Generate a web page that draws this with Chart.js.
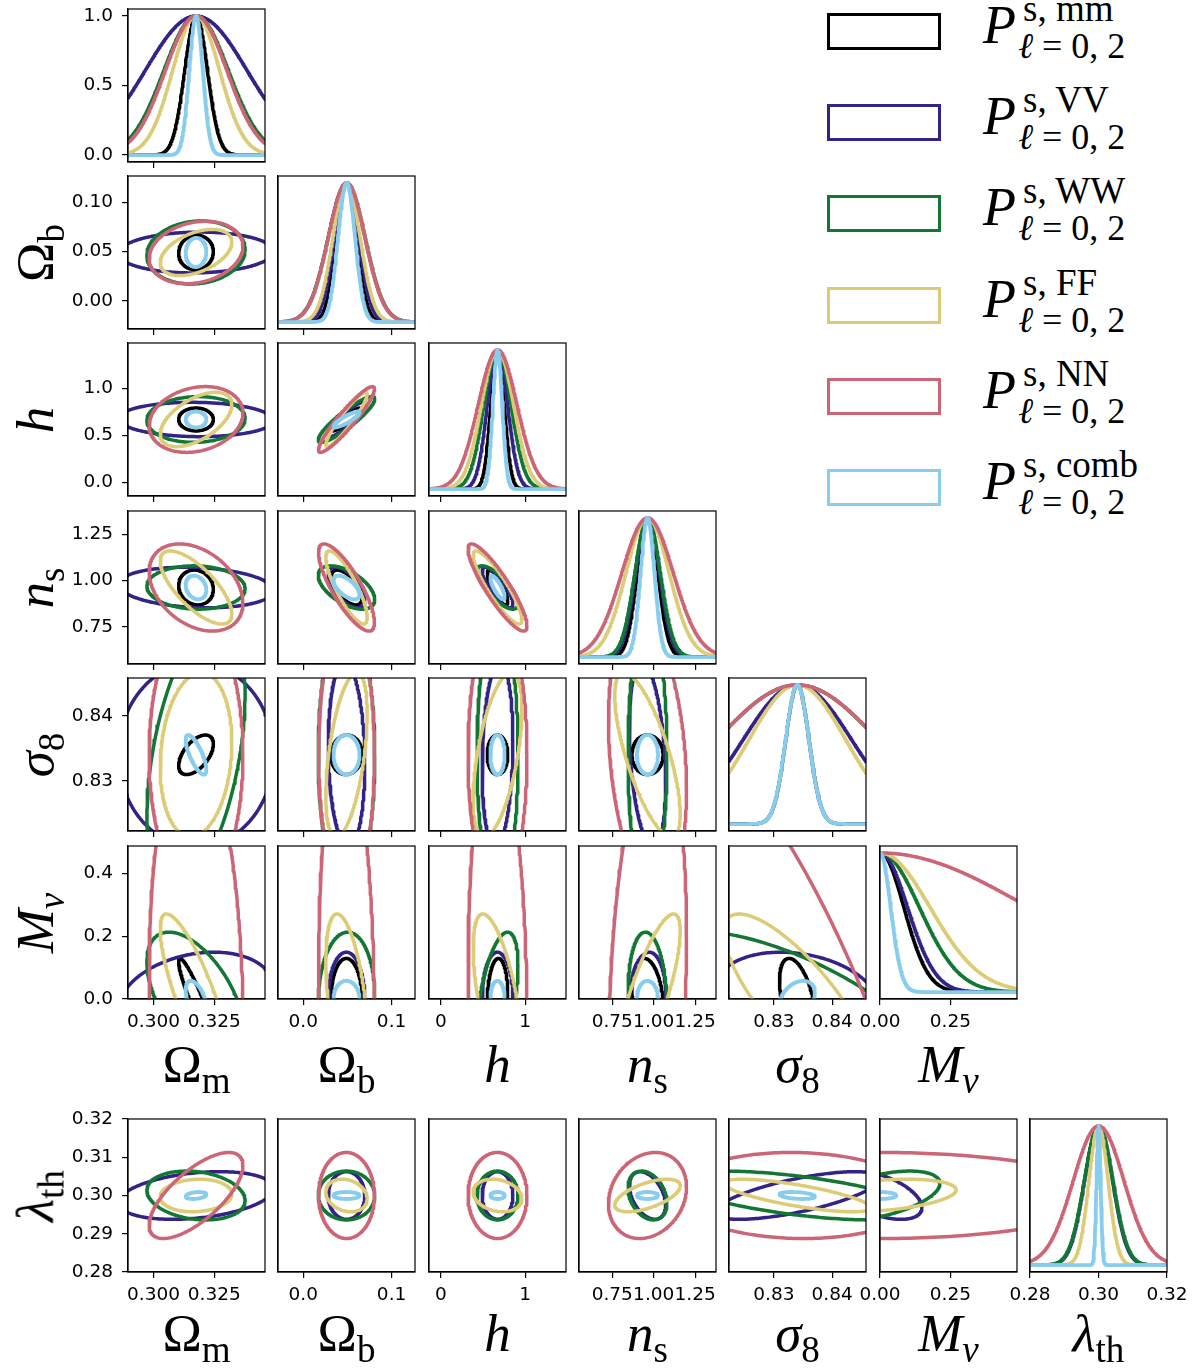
<!DOCTYPE html>
<html>
<head>
<meta charset="utf-8">
<title>Fisher forecast corner plot</title>
<script src="https://cdn.jsdelivr.net/npm/chart.js@4.4.1/dist/chart.umd.min.js"></script>
<style>
  body { margin: 0; background: #fff; }
  #fig { position: relative; width: 1199px; height: 1370px; overflow: hidden; }
  #fig canvas { position: absolute; }
  .lab { position: absolute; font-family: "Liberation Serif", "DejaVu Serif", serif; font-size: 53px; line-height: 1; white-space: nowrap; color: #000; }
  .lab .sb { font-size: 0.7em; position: relative; top: 0.3em; }
  .xlab { transform: translateX(-50%); }
  .ylab { transform: translate(-50%, -50%) rotate(-90deg); }
  .sw { position: absolute; box-sizing: border-box; width: 114px; height: 37px; border: 3.5px solid; }
  .lg { position: absolute; font-family: "Liberation Serif", "DejaVu Serif", serif; line-height: 1; white-space: nowrap; color: #000; }
</style>
</head>
<body>
<div id="fig"></div>
<script>
// parameters: Omega_m, Omega_b, h, n_s, sigma_8, M_nu, lambda_th
const paramBase = ["Ω", "Ω", "h", "n", "σ", "M", "λ"];
const paramSub = ["m", "b", "", "s", "8", "ν", "th"];
const fiducial = [0.3175, 0.049, 0.6711, 0.9624, 0.834, 0.0, 0.30];
const axisMin = [0.2895, -0.0285, -0.142, 0.549, 0.8223, 0.0, 0.28];
const axisMax = [0.3459, 0.1265, 1.484, 1.376, 0.8458, 0.487, 0.32];

const xTickValues = [[0.300, 0.325], [0.0, 0.1], [0, 1], [0.75, 1.0, 1.25], [0.83, 0.84], [0.0, 0.25], [0.28, 0.30, 0.32]];
const xTickLabels = [["0.300", "0.325"], ["0.0", "0.1"], ["0", "1"], ["0.75", "1.00", "1.25"], ["0.83", "0.84"], ["0.00", "0.25"], ["0.28", "0.30", "0.32"]];
const yTickValues = [[0.0, 0.5, 1.0], [0.0, 0.05, 0.10], [0.0, 0.5, 1.0], [0.75, 1.0, 1.25], [0.83, 0.84], [0.0, 0.2, 0.4], [0.28, 0.29, 0.30, 0.31, 0.32]];
const yTickLabels = [["0.0", "0.5", "1.0"], ["0.00", "0.05", "0.10"], ["0.0", "0.5", "1.0"], ["0.75", "1.00", "1.25"], ["0.83", "0.84"], ["0.0", "0.2", "0.4"], ["0.28", "0.29", "0.30", "0.31", "0.32"]];

// probes, in drawing order (comb ends on top)
const probeNames = ["mm", "VV", "WW", "FF", "NN", "comb"];
const probeColors = ["#000000", "#332288", "#117733", "#DDCC77", "#CC6677", "#88CCEE"];

// marginalised 1-sigma errors, one per parameter (null = not constrained)
const sigmaMM = [0.0047, 0.0115, 0.080, 0.062, 0.0020, 0.085, null];
const sigmaVV = [0.021, 0.0136, 0.12, 0.072, 0.0093, 0.098, 0.0041];
const sigmaWW = [0.0133, 0.021, 0.16, 0.077, 0.0138, 0.14, 0.0042];
const sigmaFF = [0.0097, 0.0154, 0.19, 0.13, 0.0083, 0.178, 0.0028];
const sigmaNN = [0.0127, 0.0208, 0.23, 0.155, 0.0138, 0.53, 0.0074];
const sigmaComb = [0.0028, 0.0097, 0.056, 0.042, 0.0020, 0.038, 0.0006];

// correlation coefficients, pairs (0,1),(0,2),...,(0,6),(1,2),...,(5,6)
const rhoMM = [0.05, 0.0, -0.1, 0.55, -0.92, null, 0.9, -0.6, 0.05, 0.0, null, -0.8, 0.0, 0.1, null, 0.0, -0.2, null, -0.45, null, null];
const rhoVV = [0.05, -0.05, -0.15, 0.0, 0.23, 0.3, 0.9, -0.6, -0.1, 0.0, 0.0, -0.8, 0.15, 0.0, 0.0, -0.3, 0.1, -0.4, -0.2, 0.7, -0.5];
const rhoWW = [0.1, 0.05, -0.05, 0.45, -0.55, -0.2, 0.9, -0.55, 0.0, 0.05, 0.0, -0.75, 0.0, 0.5, 0.0, 0.0, -0.1, -0.3, -0.75, -0.6, 0.5];
const rhoFF = [0.45, 0.55, -0.72, 0.15, -0.82, 0.1, 0.93, -0.82, 0.5, -0.45, -0.2, -0.88, 0.55, -0.6, -0.2, -0.72, 0.8, 0.6, -0.79, -0.75, 0.35];
const rhoNN = [0.2, 0.2, -0.35, 0.0, -0.1, 0.7, 0.93, -0.8, 0.0, -0.1, 0.0, -0.88, 0.0, -0.1, 0.0, -0.25, 0.25, 0.2, -0.83, -0.05, 0.0];
const rhoComb = [0.05, 0.0, -0.2, -0.75, -0.5, 0.3, 0.88, -0.6, 0.0, 0.0, 0.0, -0.8, 0.0, 0.0, 0.0, 0.0, 0.0, 0.0, 0.35, -0.3, 0.0];

const sigmas = [sigmaMM, sigmaVV, sigmaWW, sigmaFF, sigmaNN, sigmaComb];
const rhos = [rhoMM, rhoVV, rhoWW, rhoFF, rhoNN, rhoComb];
const K = 1.52; // contour half-extent in sigma (68% for 2 params)

const fig = document.getElementById("fig");
const PADL = 62, PADR = 30, PADT = 24, PADB = 36;
const colLeft = [128, 278, 429, 579, 729, 880, 1030];
const rowTop = [9, 176, 343, 511, 678, 846, 1119];
const PW = 137, PH = 153;

function pairIndex(i, j) {
    let idx = 0;
    for (let a = 0; a < i; a++) idx += 6 - a;
    return idx + (j - i - 1);
}

function ellipse(p, i, j) {
    const si = sigmas[p][i], sj = sigmas[p][j], r = rhos[p][pairIndex(i, j)];
    const pts = [];
    for (let n = 0; n <= 240; n++) {
        const t = (2 * Math.PI * n) / 240;
        pts.push({
            x: fiducial[i] + K * si * Math.cos(t),
            y: fiducial[j] + K * sj * (r * Math.cos(t) + Math.sqrt(1 - r * r) * Math.sin(t)),
        });
    }
    return pts;
}

function gaussian(p, i) {
    const s = sigmas[p][i];
    const pts = [];
    for (let n = 0; n <= 300; n++) {
        const x = axisMin[i] + ((axisMax[i] - axisMin[i]) * n) / 300;
        pts.push({ x, y: Math.exp(-0.5 * ((x - fiducial[i]) / s) ** 2) });
    }
    return pts;
}

function labelFor(v, vals, labels) {
    const k = vals.findIndex((t) => Math.abs(t - v) < 1e-9);
    return k < 0 ? "" : labels[k];
}

const frame = {
    id: "frame",
    afterDraw(chart) {
        const a = chart.chartArea, ctx = chart.ctx;
        ctx.save();
        ctx.strokeStyle = "#000";
        ctx.lineWidth = 1.2;
        ctx.strokeRect(a.left, a.top, a.right - a.left, a.bottom - a.top);
        ctx.restore();
    },
};

function makePanel(row, col) {
    const cv = document.createElement("canvas");
    cv.width = PW + PADL + PADR;
    cv.height = PH + PADT + PADB;
    cv.style.left = colLeft[col] - PADL + "px";
    cv.style.top = rowTop[row] - PADT + "px";
    fig.appendChild(cv);

    const diag = row === col;
    const datasets = [];
    // reversed so that the last probe is drawn on top
    for (let p = probeNames.length - 1; p >= 0; p--) {
        if (sigmas[p][col] == null || sigmas[p][row] == null) continue;
        datasets.push({
            label: probeNames[p],
            data: diag ? gaussian(p, col) : ellipse(p, col, row),
            showLine: true,
            borderColor: probeColors[p],
            borderWidth: p === 5 ? 3.8 : 3.5,
            borderCapStyle: "round",
            borderJoinStyle: "round",
            pointRadius: 0,
            tension: 0,
            fill: false,
            clip: 0,
        });
    }

    const showX = row === 5 || row === 6;
    const showY = col === 0;
    const yMin = diag ? -0.05 : axisMin[row];
    const yMax = diag ? 1.05 : axisMax[row];
    const yVals = yTickValues[row];

    new Chart(cv, {
        type: "scatter",
        data: { datasets },
        options: {
            responsive: false,
            animation: false,
            events: [],
            layout: { padding: { top: PADT, right: PADR, left: 0, bottom: 0 } },
            plugins: { legend: { display: false }, tooltip: { enabled: false } },
            scales: {
                x: {
                    type: "linear",
                    min: axisMin[col],
                    max: axisMax[col],
                    afterFit: (s) => { s.height = PADB; },
                    afterBuildTicks: (s) => { s.ticks = xTickValues[col].map((v) => ({ value: v })); },
                    ticks: {
                        display: showX,
                        autoSkip: false,
                        maxRotation: 0,
                        minRotation: 0,
                        padding: 6,
                        color: "#000",
                        font: { family: "DejaVu Sans", size: 18.5 },
                        callback: (v) => labelFor(v, xTickValues[col], xTickLabels[col]),
                    },
                    grid: { drawOnChartArea: false, drawTicks: true, tickLength: 6, color: "#000", lineWidth: 1.2 },
                    border: { display: true, color: "#000", width: 1.2 },
                },
                y: {
                    type: "linear",
                    min: yMin,
                    max: yMax,
                    afterFit: (s) => { s.width = PADL; },
                    afterBuildTicks: (s) => { s.ticks = yVals.map((v) => ({ value: v })); },
                    ticks: {
                        display: showY,
                        autoSkip: false,
                        padding: 9,
                        color: "#000",
                        font: { family: "DejaVu Sans", size: 18.5 },
                        callback: (v) => labelFor(v, yVals, yTickLabels[row]),
                    },
                    grid: { drawOnChartArea: false, drawTicks: showY, tickLength: 6, color: "#000", lineWidth: 1.2 },
                    border: { display: true, color: "#000", width: 1.2 },
                },
            },
        },
        plugins: [frame],
    });
}

for (let j = 0; j < 7; j++) {
    for (let i = 0; i <= j; i++) makePanel(j, i);
}

// axis labels
function mathLabel(k) {
    const base = k < 2 ? paramBase[k] : "<i>" + paramBase[k] + "</i>";
    const sub = paramSub[k] === "" ? "" : '<span class="sb">' + (k === 5 ? "<i>ν</i>" : paramSub[k]) + "</span>";
    return base + sub;
}
function addLabel(html, cls, x, y) {
    const d = document.createElement("div");
    d.className = "lab " + cls;
    d.innerHTML = html;
    d.style.left = x + "px";
    d.style.top = y + "px";
    fig.appendChild(d);
}
for (let i = 0; i < 6; i++) addLabel(mathLabel(i), "xlab", colLeft[i] + PW / 2, 1038);
for (let i = 0; i < 7; i++) addLabel(mathLabel(i), "xlab", colLeft[i] + PW / 2, 1307);
for (let j = 1; j < 7; j++) addLabel(mathLabel(j), "ylab", 35, rowTop[j] + PH / 2);

// legend
probeNames.forEach((name, p) => {
    const top = 13 + 91.2 * p;
    const sw = document.createElement("div");
    sw.className = "sw";
    sw.style.left = "827px";
    sw.style.top = top + "px";
    sw.style.borderColor = probeColors[p];
    fig.appendChild(sw);

    const pieces = [
        { html: "<i>P</i>", left: 983, top: top - 15, size: 54 },
        { html: "s, " + name, left: 1023, top: top - 23, size: 37 },
        { html: "<i>ℓ</i> = 0, 2", left: 1018, top: top + 15, size: 36 },
    ];
    pieces.forEach((pc) => {
        const d = document.createElement("div");
        d.className = "lg";
        d.innerHTML = pc.html;
        d.style.left = pc.left + "px";
        d.style.top = pc.top + "px";
        d.style.fontSize = pc.size + "px";
        fig.appendChild(d);
    });
});
</script>
</body>
</html>
